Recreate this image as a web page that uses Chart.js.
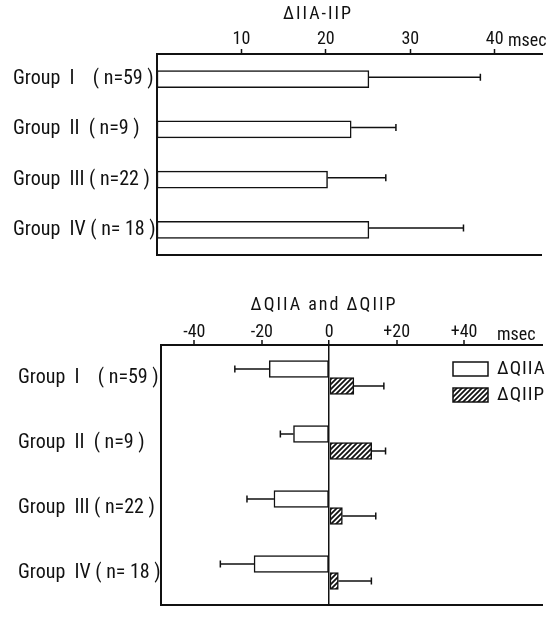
<!DOCTYPE html>
<html>
<head>
<meta charset="utf-8">
<script src="https://cdn.jsdelivr.net/npm/chart.js@4"></script>
<style>
  html, body { margin: 0; padding: 0; background: #fff; }
  .panel { position: absolute; left: 0; width: 556px; }
</style>
</head>
<body>
<div class="panel" style="top:0;height:270px"><canvas id="chartTop" width="556" height="270"></canvas></div>
<div class="panel" style="top:280px;height:340px"><canvas id="chartBottom" width="556" height="340"></canvas></div>
<script>
// ---- data (msec) ----
const groupLabels = ['Group  I    ( n=59 )', 'Group  II  ( n=9 )', 'Group  III ( n=22 )', 'Group  IV ( n= 18 )'];

const iiaIipMean = [25.1, 23.0, 20.2, 25.1];
const iiaIipSd = [13.2, 5.3, 6.9, 11.2];
const topTicks = [10, 20, 30, 40];

const qiiaMean = [-17.8, -10.6, -16.4, -22.3];
const qiiaSd = [10.2, 3.9, 8.0, 10.0];
const qiipMean = [7.3, 12.6, 3.9, 2.7];
const qiipSd = [8.9, 4.1, 9.9, 9.8];
const bottomTicks = [-40, -20, 0, 20, 40];
const bottomTickText = ['-40', '-20', '0', '+20', '+40'];

const INK = '#111';
const FONT = "'Roboto Condensed', 'DejaVu Sans Condensed', sans-serif";
Chart.defaults.font.family = FONT;
Chart.defaults.color = INK;

function makeHatch() {
  const c = document.createElement('canvas');
  c.width = c.height = 5;
  const g = c.getContext('2d');
  g.fillStyle = '#fff';
  g.fillRect(0, 0, 5, 5);
  g.strokeStyle = INK;
  g.lineWidth = 1.8;
  g.beginPath();
  g.moveTo(0, 5); g.lineTo(5, 0);
  g.moveTo(-1, 1); g.lineTo(1, -1);
  g.moveTo(4, 6); g.lineTo(6, 4);
  g.stroke();
  return g.createPattern(c, 'repeat');
}

// error bars, drawn from the bar end outward
const errorBarPlugin = {
  id: 'errorBars',
  afterDatasetsDraw(chart, args, opts) {
    const { ctx } = chart;
    const xs = chart.scales.x;
    ctx.save();
    ctx.strokeStyle = INK;
    ctx.lineWidth = 1.5;
    chart.data.datasets.forEach((ds, di) => {
      const meta = chart.getDatasetMeta(di);
      meta.data.forEach((bar, i) => {
        const v = ds.data[i];
        const tip = xs.getPixelForValue(v + Math.sign(v) * ds.errors[i]);
        const y = bar.y + (opts.dy || 0);
        ctx.beginPath();
        ctx.moveTo(bar.x, y);
        ctx.lineTo(tip, y);
        ctx.moveTo(tip, y - 3.5);
        ctx.lineTo(tip, y + 3.5);
        ctx.stroke();
      });
    });
    ctx.restore();
  }
};

// bottom rule, panel title and unit label
const framePlugin = {
  id: 'frame',
  afterDraw(chart, args, opts) {
    const { ctx, chartArea: a } = chart;
    ctx.save();
    ctx.strokeStyle = INK;
    ctx.lineWidth = 2;
    ctx.beginPath();
    ctx.moveTo(a.left - 1, a.bottom);
    ctx.lineTo(a.right, a.bottom);
    ctx.stroke();

    ctx.fillStyle = INK;
    ctx.textBaseline = 'alphabetic';
    ctx.font = `18px ${FONT}`;
    ctx.textAlign = 'center';
    ctx.letterSpacing = '2px';
    ctx.fillText(opts.title, opts.titleX, opts.titleY);
    ctx.letterSpacing = '0px';
    ctx.textAlign = 'left';
    ctx.fillText('msec', opts.unitX, opts.unitY);
    ctx.restore();
  }
};

const boxLegendPlugin = {
  id: 'boxLegend',
  afterDraw(chart) {
    const { ctx, chartArea: a } = chart;
    ctx.save();
    ctx.font = `19px ${FONT}`;
    ctx.letterSpacing = '1px';
    ctx.textBaseline = 'middle';
    ctx.textAlign = 'left';
    chart.data.datasets.forEach((ds, i) => {
      const x = a.right - 90;
      const y = a.top + 17 + i * 26;
      ctx.fillStyle = ds.backgroundColor;
      ctx.fillRect(x, y, 35, 14);
      ctx.strokeStyle = INK;
      ctx.lineWidth = 1.5;
      ctx.strokeRect(x, y, 35, 14);
      ctx.fillStyle = INK;
      ctx.fillText(ds.label, x + 44, y + 7);
    });
    ctx.restore();
  }
};

function groupAxis(width) {
  return {
    type: 'category',
    grid: { display: false },
    border: { display: true, color: INK, width: 2 },
    ticks: { crossAlign: 'far', color: INK, font: { size: 20 } },
    afterFit(s) { s.width = width; }
  };
}

new Chart(document.getElementById('chartTop'), {
  type: 'bar',
  plugins: [errorBarPlugin, framePlugin],
  data: {
    labels: groupLabels,
    datasets: [{
      label: '\u0394IIA-IIP',
      data: iiaIipMean,
      errors: iiaIipSd,
      backgroundColor: '#fff',
      borderColor: INK,
      borderWidth: 1.5,
      borderSkipped: false,
      barThickness: 17,
    }]
  },
  options: {
    indexAxis: 'y',
    responsive: false,
    animation: false,
    events: [],
    layout: { padding: { left: 13, right: 14, top: 0, bottom: 11 } },
    scales: {
      x: {
        position: 'top',
        min: 0,
        max: 45.6,
        afterBuildTicks(s) { s.ticks = topTicks.map(v => ({ value: v })); },
        afterFit(s) { s.height = 54; },
        grid: { drawOnChartArea: false, drawTicks: true, tickLength: 5, tickColor: INK, tickWidth: 1.5 },
        border: { display: true, color: INK, width: 2 },
        ticks: { color: INK, padding: 1, maxRotation: 0, font: { size: 18, lineHeight: 1 } }
      },
      y: groupAxis(144)
    },
    plugins: {
      legend: { display: false },
      tooltip: { enabled: false },
      errorBars: { dy: -2 },
      frame: { title: '\u0394IIA-IIP', titleX: 318, titleY: 19, unitX: 508, unitY: 46 }
    }
  }
});

const hatch = makeHatch();

new Chart(document.getElementById('chartBottom'), {
  type: 'bar',
  plugins: [errorBarPlugin, framePlugin, boxLegendPlugin],
  data: {
    labels: groupLabels,
    datasets: [
      {
        label: '\u0394QIIA',
        data: qiiaMean,
        errors: qiiaSd,
        backgroundColor: '#fff',
        borderColor: INK,
        borderWidth: 1.5,
        borderSkipped: false,
        barThickness: 17,
      },
      {
        label: '\u0394QIIP',
        data: qiipMean,
        errors: qiipSd,
        backgroundColor: hatch,
        borderColor: INK,
        borderWidth: 1.5,
        borderSkipped: false,
        barThickness: 17,
      }
    ]
  },
  options: {
    indexAxis: 'y',
    responsive: false,
    animation: false,
    events: [],
    layout: { padding: { left: 18, right: 13, top: 0, bottom: 2 } },
    scales: {
      x: {
        position: 'top',
        min: -49.9,
        max: 63.4,
        afterBuildTicks(s) { s.ticks = bottomTicks.map(v => ({ value: v })); },
        afterFit(s) { s.height = 65; },
        grid: {
          drawOnChartArea: true,
          drawTicks: true,
          tickLength: 5,
          tickColor: INK,
          tickWidth: 1.5,
          color: ctx => (ctx.tick && ctx.tick.value === 0 ? INK : 'rgba(0,0,0,0)'),
          lineWidth: ctx => (ctx.tick && ctx.tick.value === 0 ? 1.5 : 0)
        },
        border: { display: true, color: INK, width: 2 },
        ticks: {
          color: INK,
          padding: -1,
          maxRotation: 0,
          font: { size: 18, lineHeight: 1 },
          callback: (v, i) => bottomTickText[i]
        }
      },
      y: groupAxis(143)
    },
    plugins: {
      legend: { display: false },
      tooltip: { enabled: false },
      errorBars: { dy: 0 },
      frame: { title: '\u0394QIIA and \u0394QIIP', titleX: 324, titleY: 30, unitX: 497, unitY: 60 }
    }
  }
});
</script>
</body>
</html>
